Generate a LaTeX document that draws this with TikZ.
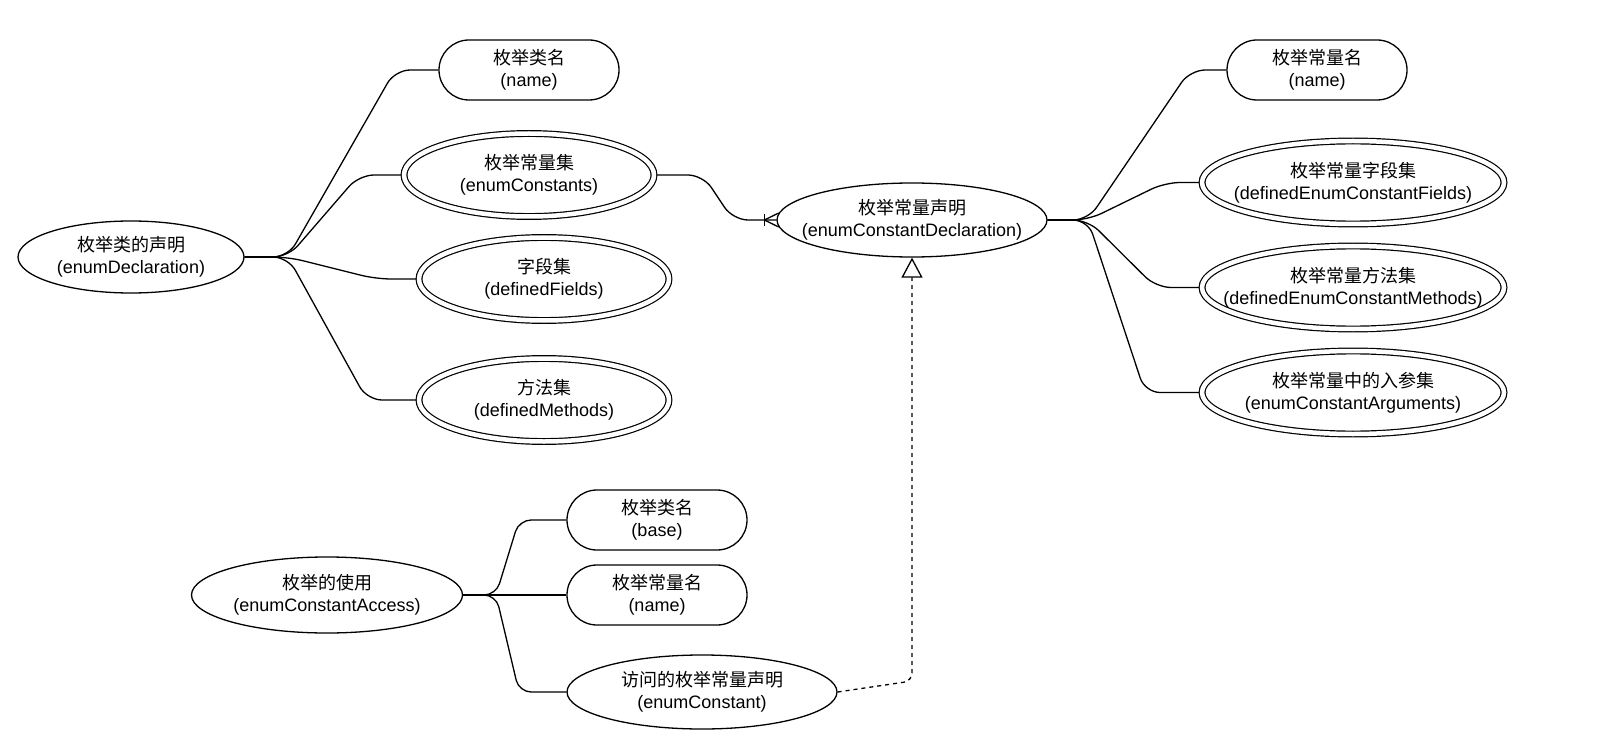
\documentclass[tikz,border=0pt]{standalone}
\usepackage{fontspec}
\setmainfont{Liberation Sans}
\newfontfamily\cjk{Noto Sans CJK SC}
\usetikzlibrary{shapes.geometric,arrows.meta}
\begin{document}
\begin{tikzpicture}[x=1pt,y=-1pt,
  txt/.style={align=center, font=\fontsize{18}{21.6}\selectfont, inner sep=0pt},
  ent/.style={ellipse, draw, line width=1.3pt, inner sep=0pt, fill=white},
  dbl/.style={ellipse, draw, line width=1.2pt, double, double distance=4.5pt, inner sep=0pt, outer sep=2.85pt, minimum height=83pt},
  pill/.style={rectangle, draw, line width=1.3pt, rounded corners=30pt, minimum width=180pt, minimum height=60pt, inner sep=0pt, fill=white},
  conn/.style={draw, line width=1.3pt, rounded corners=15pt},
  thin/.style={draw, line width=1.3pt},
]
\useasboundingbox (0,0) rectangle (1597,751);

% left group
\node[ent, minimum width=226pt, minimum height=72pt, label={[txt]center:{\cjk 枚举类的声明}\\(enumDeclaration)}] (decl) at (131,257) {};
\node[pill, label={[txt]center:{\cjk 枚举类名}\\(name)}] (dname) at (529,70) {};
\node[dbl, minimum width=250pt, label={[txt]center:{\cjk 枚举常量集}\\(enumConstants)}] (dconst) at (529,175) {};
\node[dbl, minimum width=250pt, label={[txt]center:{\cjk 字段集}\\(definedFields)}] (dfields) at (544,279) {};
\node[dbl, minimum width=250pt, label={[txt]center:{\cjk 方法集}\\(definedMethods)}] (dmethods) at (544,400) {};

% right group
\node[ent, minimum width=270pt, minimum height=74pt, label={[txt]center:{\cjk 枚举常量声明}\\(enumConstantDeclaration)}] (ecd) at (912,220) {};
\node[pill, label={[txt]center:{\cjk 枚举常量名}\\(name)}] (cname) at (1317,70) {};
\node[dbl, minimum width=302pt, label={[txt]center:{\cjk 枚举常量字段集}\\(definedEnumConstantFields)}] (cfields) at (1353,182.5) {};
\node[dbl, minimum width=302pt, label={[txt]center:{\cjk 枚举常量方法集}\\(definedEnumConstantMethods)}] (cmethods) at (1353,287.5) {};
\node[dbl, minimum width=302pt, label={[txt]center:{\cjk 枚举常量中的入参集}\\(enumConstantArguments)}] (cargs) at (1353,392.5) {};

% bottom group
\node[ent, minimum width=271pt, minimum height=76pt, label={[txt]center:{\cjk 枚举的使用}\\(enumConstantAccess)}] (access) at (327,595) {};
\node[pill, label={[txt]center:{\cjk 枚举类名}\\(base)}] (abase) at (657,520) {};
\node[pill, label={[txt]center:{\cjk 枚举常量名}\\(name)}] (aname) at (657,595) {};
\node[ent, minimum width=270pt, minimum height=74pt, label={[txt]center:{\cjk 访问的枚举常量声明}\\(enumConstant)}] (aconst) at (702,692) {};

% left connectors
\draw[conn] (decl.east) -- (288,257) -- (395,70) -- (dname.west);
\draw[conn] (decl.east) -- (288,257) -- (359,175) -- (dconst.west);
\draw[conn] (decl.east) -- (288,257) -- (376,279) -- (dfields.west);
\draw[conn] (decl.east) -- (288,257) -- (367,400) -- (dmethods.west);

% right connectors
\draw[conn] (ecd.east) -- (1088,220) -- (1190,70) -- (cname.west);
\draw[conn] (ecd.east) -- (1088,220) -- (1165,182.5) -- (cfields.west);
\draw[conn] (ecd.east) -- (1088,220) -- (1156,287.5) -- (cmethods.west);
\draw[conn] (ecd.east) -- (1088,220) -- (1145,392.5) -- (cargs.west);

% bottom connectors
\draw[conn, rounded corners=12pt] (access.east) -- (496,595) -- (519,520) -- (abase.west);
\draw[conn] (access.east) -- (aname.west);
\draw[conn, rounded corners=12pt] (access.east) -- (496,595) -- (519,692) -- (aconst.west);

% enumConstants -> enumConstantDeclaration (one-to-many)
\draw[conn] (dconst.east) -- (703,175) -- (733,220) -- (ecd.west);
\coordinate (cf) at ([xshift=-12pt]ecd.west);
\draw[thin] (cf) -- ([shift={(2.4,-7)}]ecd.west);
\draw[thin] (cf) -- ([shift={(2.4,7)}]ecd.west);
\draw[thin] ([yshift=-6pt]cf) -- ([yshift=6pt]cf);

% dashed reference
\draw[line width=1.3pt, dash pattern=on 4pt off 4pt, rounded corners=8pt,
  -{Triangle[open, width=21pt, length=20pt]}] (aconst.east) -- (912,681) -- (ecd.south);
\end{tikzpicture}
\end{document}
